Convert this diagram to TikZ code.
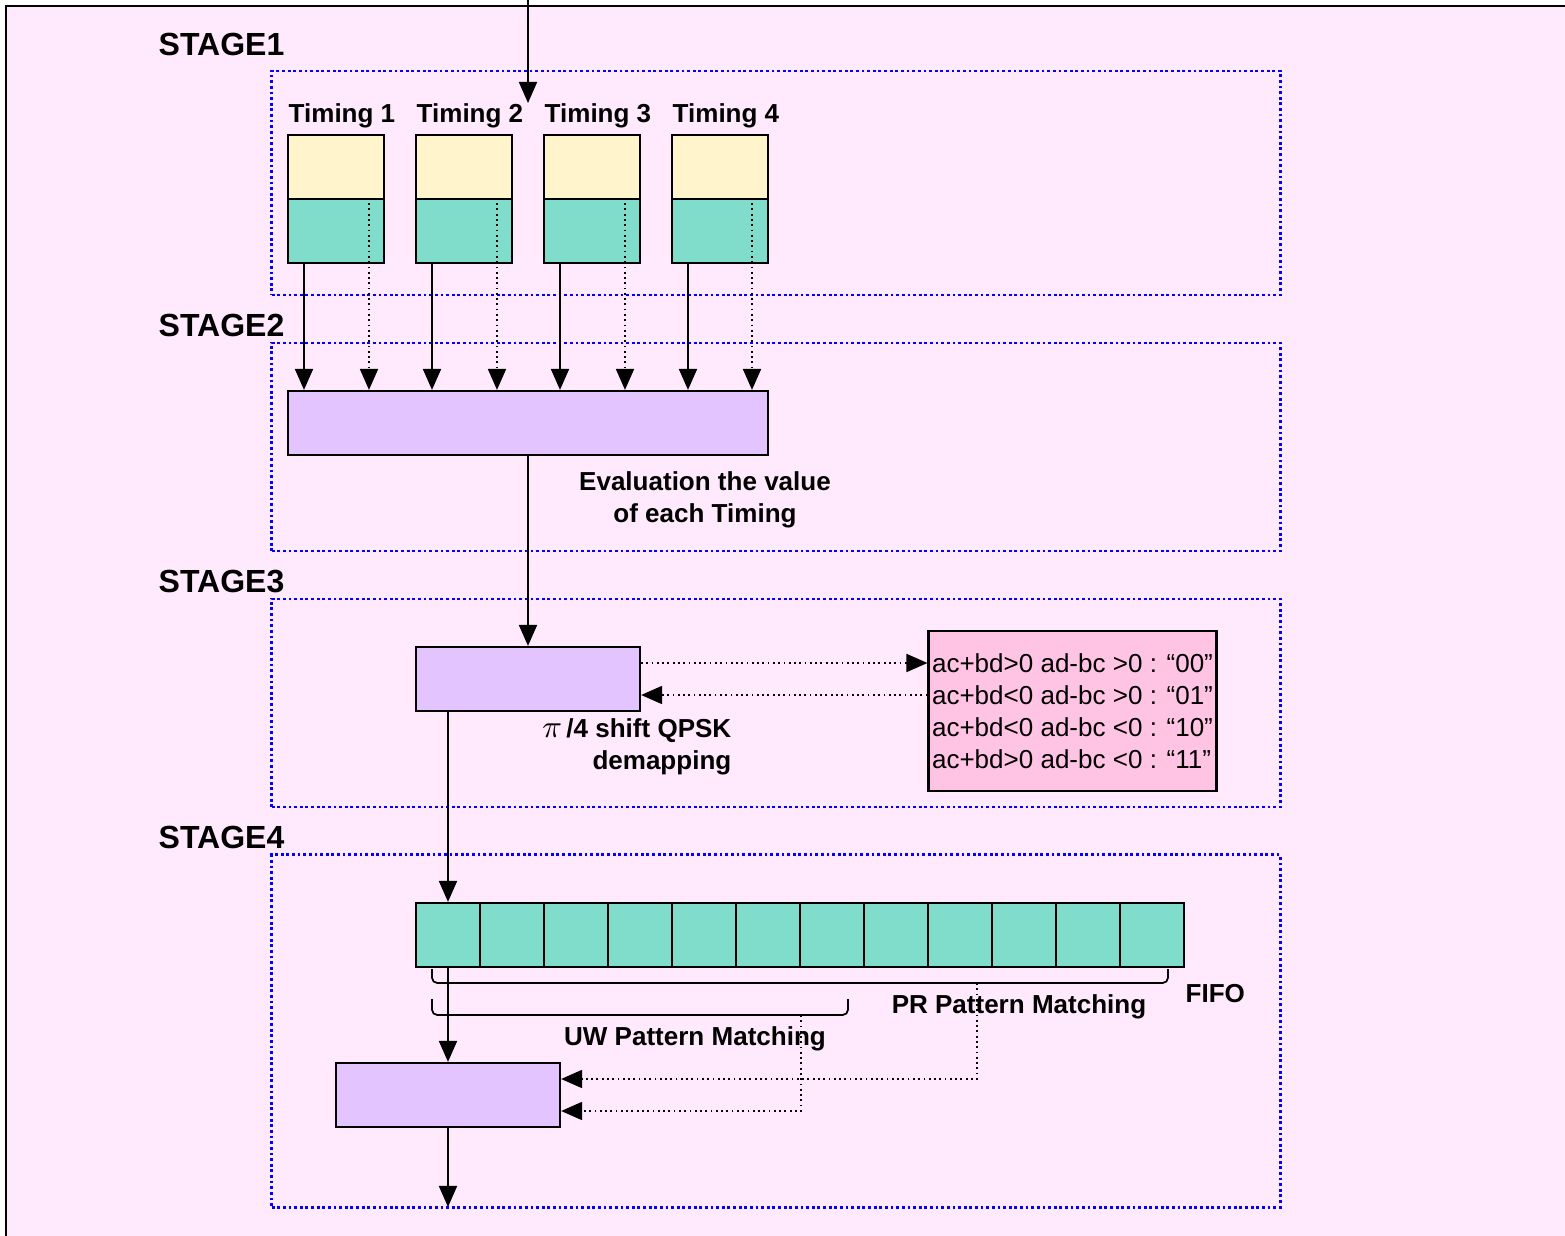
\documentclass[tikz,border=0pt]{standalone}
\usepackage{fontspec}
\setmainfont{Liberation Sans}
\usepackage{tikz}
\usetikzlibrary{arrows.meta}

\definecolor{bgpink}{RGB}{255,233,252}
\definecolor{tyellow}{RGB}{255,244,204}
\definecolor{tteal}{RGB}{128,221,204}
\definecolor{plilac}{RGB}{227,196,255}
\definecolor{condpink}{RGB}{255,196,228}

\begin{document}
\begin{tikzpicture}[
  x=0.01cm, y=-0.01cm,
  every node/.style={font={\fontsize{7.4}{9.1}\selectfont\bfseries}, align=center},
  stagebox/.style={rectangle, draw=blue, line width=0.8pt, dash pattern=on 0.8pt off 0.8pt, minimum width=10.08cm},
  stagelabel/.style={anchor=base west, inner sep=0pt, font={\fontsize{9.1}{11}\selectfont\bfseries}},
  slottop/.style={rectangle, draw, line width=0.6pt, fill=tyellow, minimum width=0.96cm, minimum height=0.64cm},
  slotbot/.style={slottop, fill=tteal},
  cell/.style={slotbot, minimum width=0.64cm},
  process/.style={rectangle, draw, line width=0.6pt, fill=plilac, minimum width=2.24cm, minimum height=0.64cm},
  condbox/.style={rectangle, draw, line width=0.6pt, fill=condpink, minimum width=2.87cm, minimum height=1.6cm, align=left, inner sep=1pt, font={\fontsize{7.4}{9.1}\selectfont\mdseries}},
  txt/.style={inner sep=0pt},
  arr/.style={-{Triangle[length=0.21cm, width=0.18cm]}, line width=0.5pt},
  dots/.style={densely dotted}
  ]

\useasboundingbox (0,0) rectangle (1565,1236);
\fill[white] (0,0) rectangle (1565,1236);
\fill[bgpink] (6,6) rectangle (1565,1236);
\draw[line width=0.7pt] (6,1236) -- (6,6) -- (1565,6);

% Stages
\node[stagebox, minimum height=2.24cm] (stage1) at (776,183) {};
\node[stagebox, minimum height=2.08cm] (stage2) at (776,447) {};
\node[stagebox, minimum height=2.08cm] (stage3) at (776,703) {};
\node[stagebox, minimum height=3.52cm] (stage4) at (776,1031) {};
\node[stagelabel] (lab1) at (158,55) {STAGE1};
\node[stagelabel] (lab2) at (158,336) {STAGE2};
\node[stagelabel] (lab3) at (158,592) {STAGE3};
\node[stagelabel] (lab4) at (158,848) {STAGE4};

% Timings
\node[txt, anchor=base west] (tl1) at (288,122) {Timing 1};
\node[txt, anchor=base west] (tl2) at (416,122) {Timing 2};
\node[txt, anchor=base west] (tl3) at (544,122) {Timing 3};
\node[txt, anchor=base west] (tl4) at (672,122) {Timing 4};
\node[slottop] (t1a) at (336,167) {};
\node[slotbot] (t1b) at (336,231) {};
\node[slottop] (t2a) at (464,167) {};
\node[slotbot] (t2b) at (464,231) {};
\node[slottop] (t3a) at (592,167) {};
\node[slotbot] (t3b) at (592,231) {};
\node[slottop] (t4a) at (720,167) {};
\node[slotbot] (t4b) at (720,231) {};

% Processing blocks
\node[process, minimum width=4.8cm] (eval) at (528,423) {};
\node[txt] (evaltxt) at (705,500) {Evaluation the value\\of each Timing};
\node[process] (demap) at (528,679) {};
\node[txt, anchor=east, align=right] (demaptxt) at (732,747) {{\fontsize{9.5}{9.1}\selectfont$\pi$}\,/4 shift QPSK\\demapping};
\node[condbox] (cond) at (1072.5,711) {ac+bd>0 ad-bc >0 : “00”\\ac+bd<0 ad-bc >0 : “01”\\ac+bd<0 ad-bc <0 : “10”\\ac+bd>0 ad-bc <0 : “11”};

% FIFO
\node[cell] (c1) at (448,935) {};
\node[cell] (c2) at (512,935) {};
\node[cell] (c3) at (576,935) {};
\node[cell] (c4) at (640,935) {};
\node[cell] (c5) at (704,935) {};
\node[cell] (c6) at (768,935) {};
\node[cell] (c7) at (832,935) {};
\node[cell] (c8) at (896,935) {};
\node[cell] (c9) at (960,935) {};
\node[cell] (c10) at (1024,935) {};
\node[cell] (c11) at (1088,935) {};
\node[cell] (c12) at (1152,935) {};
\node[txt, anchor=west] (fifolab) at (1185,994) {FIFO};
\draw[line width=0.5pt, rounded corners=1.5] (432,969) -- (432,983) -- (1168,983) -- (1168,969);
\draw[line width=0.5pt, rounded corners=1.5] (432,999) -- (432,1015) -- (848,1015) -- (848,999);
\node[txt] (prlab) at (1019,1007) {PR Pattern Matching};
\node[txt] (uwlab) at (695,1039) {UW Pattern Matching};
\node[process] (dec) at (448,1095) {};

\coordinate (input) at (528,0);
\coordinate (tin) at (528,103);
\coordinate (prtap) at (977,983);
\coordinate (uwtap) at (801,1015);
\coordinate (output) at (448,1207);

% Arrows
\draw[arr] (input) -- (tin);
\draw[arr] (t1b.south -| 304,0) -- (304,0 |- eval.north);
\draw[arr, dots] (t1b.north -| 369,0) -- (369,0 |- eval.north);
\draw[arr] (t2b.south -| 432,0) -- (432,0 |- eval.north);
\draw[arr, dots] (t2b.north -| 497,0) -- (497,0 |- eval.north);
\draw[arr] (t3b.south -| 560,0) -- (560,0 |- eval.north);
\draw[arr, dots] (t3b.north -| 625,0) -- (625,0 |- eval.north);
\draw[arr] (t4b.south -| 688,0) -- (688,0 |- eval.north);
\draw[arr, dots] (t4b.north -| 752,0) -- (752,0 |- eval.north);
\draw[arr] (eval) -- (demap);
\draw[arr, dots] (demap.east |- 0,663) -- (cond.west |- 0,663);
\draw[arr, dots] (cond.west |- 0,695) -- (demap.east |- 0,695);
\draw[arr] (demap.south -| c1) -- (c1.north);
\draw[arr] (c1) -- (dec);
\draw[arr, dots] (prtap) |- (dec.east |- 0,1079);
\draw[arr, dots] (uwtap) |- (dec.east |- 0,1111);
\draw[arr] (dec) -- (output);

\end{tikzpicture}
\end{document}
